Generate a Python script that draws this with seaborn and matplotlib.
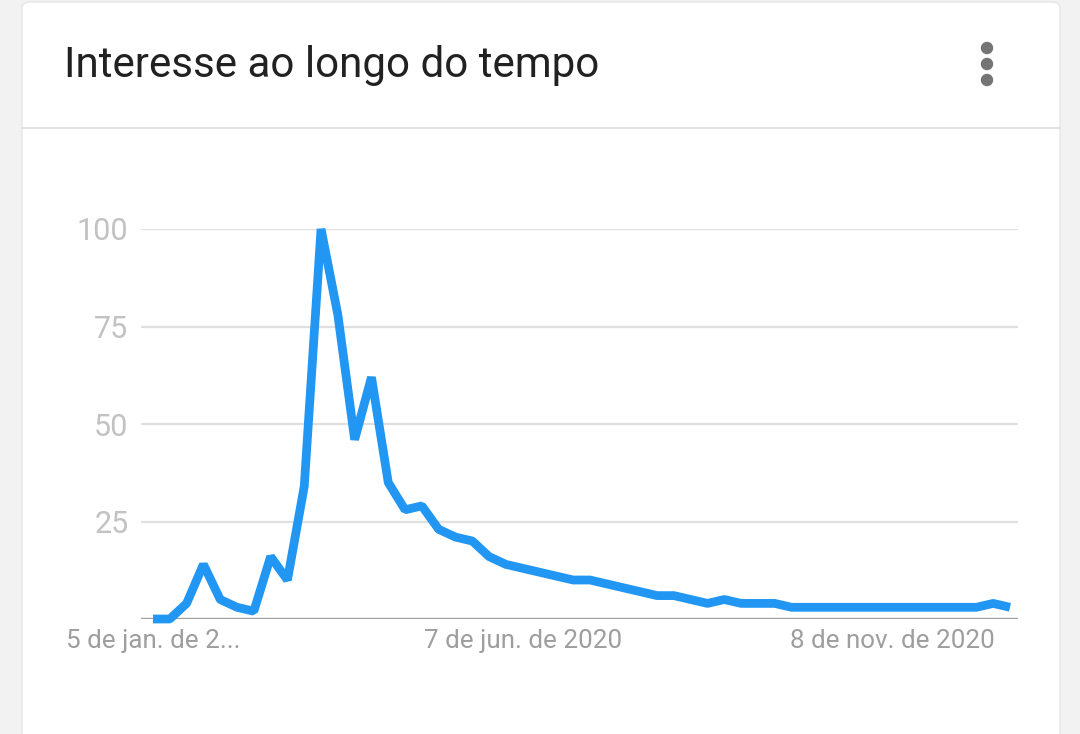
import numpy as np
import pandas as pd
import seaborn as sns
import matplotlib.pyplot as plt
from matplotlib.patches import FancyBboxPatch, Ellipse

# Dados semanais (Google Trends, 2020)
semanas = list(range(52))
interesse = [0, 0, 4, 14, 5, 3, 2, 16, 10, 34,
             100, 78, 46, 62, 35, 28, 29, 23, 21, 20,
             16, 14, 13, 12, 11, 10, 10, 9, 8, 7,
             6, 6, 5, 4, 5, 4, 4, 4, 3, 3,
             3, 3, 3, 3, 3, 3, 3, 3, 3, 3,
             4, 3]
tick_pos = [0, 22, 44]
tick_labels = ['5 de jan. de 2...', '7 de jun. de 2020', '8 de nov. de 2020']
y_ticks = [0, 25, 50, 75, 100]
y_labels = ['', '25', '50', '75', '100']

df = pd.DataFrame({'semana': semanas, 'interesse': interesse})

sns.set_style('white')
plt.rcParams['font.family'] = ['Roboto', 'DejaVu Sans']

W, H = 1080, 734
fig = plt.figure(figsize=(W / 100, H / 100), dpi=100)
fig.patch.set_facecolor('#f2f2f2')

# cartão branco
card = FancyBboxPatch((22 / W, -0.05), (1060 - 22) / W, (H - 2) / H + 0.05,
                      boxstyle='round,pad=0,rounding_size=0.008',
                      transform=fig.transFigure, facecolor='white',
                      edgecolor='#e6e6e6', linewidth=1, zorder=-5)
fig.add_artist(card)
fig.add_artist(plt.Line2D([22 / W, 1060 / W], [1 - 128 / H, 1 - 128 / H],
                          transform=fig.transFigure, color='#e0e0e0', linewidth=1.5,
                          zorder=-4))

fig.text(64 / W, 1 - 66 / H, 'Interesse ao longo do tempo', fontsize=30.3,
         color='#212121', va='center', ha='left')
for yy in [48, 64, 80]:
    fig.add_artist(Ellipse((987 / W, 1 - yy / H), 11 / W, 11 / H,
                           transform=fig.transFigure, color='#757575'))

# eixo
left, right, top, bottom = 141, 1018, 229, 619
ax = fig.add_axes([left / W, 1 - bottom / H, (right - left) / W, (bottom - top) / H])
ax.set_zorder(2)
ax.set_facecolor('none')
sns.lineplot(data=df, x='semana', y='interesse', ax=ax, color='#2196f3',
             linewidth=6.3, zorder=3, clip_on=False,
             solid_joinstyle='bevel', solid_capstyle='butt')
px = 16.8
ax.set_xlim(-(153 - left) / px, 51 + (right - 1010) / px)
ax.set_ylim(0, 100)

for v in y_ticks[1:]:
    ax.axhline(v, color='#e0e0e0', linewidth=1.6, zorder=1)
ax.axhline(0, color='#a0a0a0', linewidth=2.4, zorder=2)

ax.set_yticks(y_ticks)
ax.set_yticklabels(y_labels, fontsize=22, color='#c2c2c2')
ax.set_xticks(tick_pos)
ax.set_xticklabels(tick_labels, fontsize=18.7, color='#9e9e9e')
ax.tick_params(axis='both', length=0)
ax.tick_params(axis='y', pad=9)
ax.tick_params(axis='x', pad=7)
ax.set_xlabel('')
ax.set_ylabel('')
sns.despine(ax=ax, left=True, bottom=True, top=True, right=True)

fig.savefig('out.png', dpi=100, facecolor=fig.get_facecolor())
